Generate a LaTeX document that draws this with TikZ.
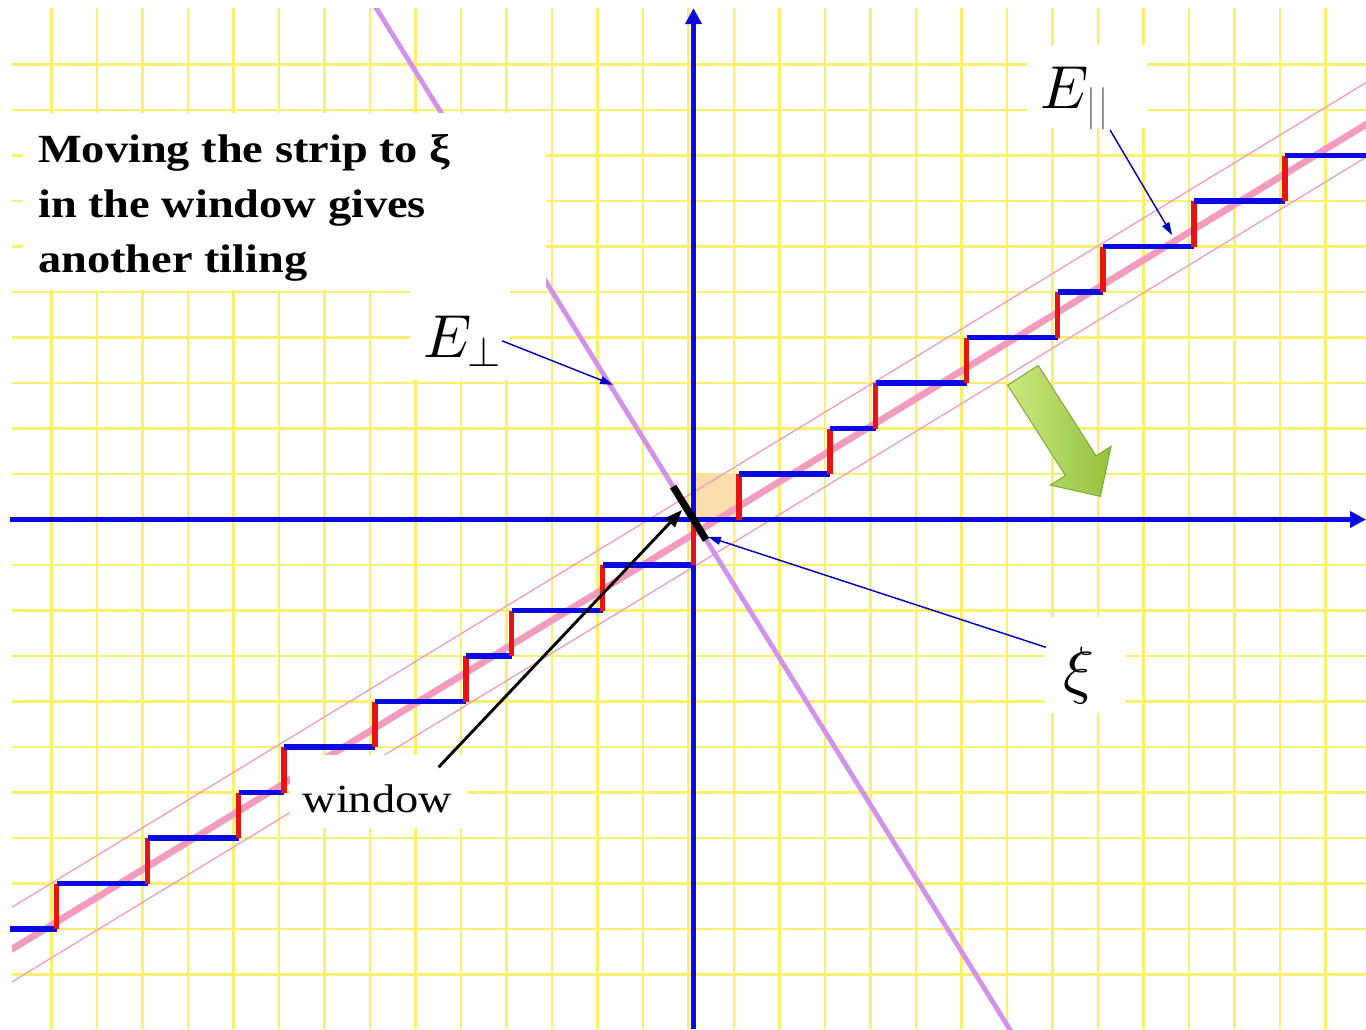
\documentclass[tikz,border=0pt]{standalone}
\usepackage{fontspec}
\newfontfamily\slidefont[FakeStretch=1.16]{Liberation Serif}
\DeclareFontShape{OML}{cmm}{m}{it}{<->cmmi10}{}
\DeclareFontShape{OMS}{cmsy}{m}{n}{<->cmsy10}{}
\DeclareFontShape{OT1}{cmr}{m}{n}{<->cmr10}{}
\usetikzlibrary{arrows.meta}
\definecolor{gridyellow}{RGB}{250,240,110}
\definecolor{strippink}{RGB}{242,155,190}
\definecolor{perpviolet}{RGB}{212,145,235}
\definecolor{stairblue}{RGB}{10,10,225}
\definecolor{stairred}{RGB}{232,20,20}
\definecolor{cellorange}{RGB}{252,222,172}
\definecolor{greenlight}{RGB}{205,232,130}
\definecolor{greendark}{RGB}{145,195,60}

\begin{document}
\begin{tikzpicture}[
  gridline/.style={gridyellow, line width=1.6pt},
  axis/.style={stairblue, line width=3pt, -{Triangle[length=10pt,width=10pt]}},
  riser/.style={stairred, line width=3.5pt},
  tread/.style={stairblue, line width=3.5pt},
  pointer/.style={blue!75!black, line width=0.9pt, -{Triangle[length=8pt,width=5pt]}},
  mathlabel/.style={inner sep=0pt, font=\fontsize{38}{46}\selectfont},
  patch/.style={fill=white}]
\useasboundingbox (-15.242,-11.198) rectangle (14.780,11.418);
\fill[white] (-15.242,-11.198) rectangle (14.780,11.418);

\begin{scope}
\clip (-14.98,-11.198) rectangle (14.780,11.24);
\foreach \k in {-14,...,14}
  \draw[gridline] (\k-0.11,-11.2) -- (\k-0.11,11.24);
\foreach \k in {-10,...,10}
  \draw[gridline] (-14.98,\k) -- (14.78,\k);
\fill[cellorange] (0,0) rectangle (1,1);
% the strip along E_par
\draw[strippink, line width=0.8pt] (-15,{0.6-15*0.609}) -- (15,{0.6+15*0.609});
\draw[strippink, line width=4.2pt] (-15,{-0.32-15*0.609}) -- (15,{-0.32+15*0.609});
\draw[strippink, line width=0.8pt] (-15,{-1.04-15*0.609}) -- (15,{-1.04+15*0.609});
% E_perp
\draw[perpviolet, line width=3pt] ({-11.4/1.612},11.4) -- ({11.4/1.612},-11.4);
\end{scope}

\draw[axis] (-15.02,0) -- (14.78,0);
\draw[axis] (0,-11.2) -- (0,11.24);

% the tiling
\draw[tread] (-15.02,-9) -- (-14,-9);
\foreach \a/\b/\c in {-14/-9/-12, -12/-8/-10, -10/-7/-9, -9/-6/-7, -7/-5/-5,
    -5/-4/-4, -4/-3/-2, -2/-2/0, 0/-1/1, 1/0/3, 3/1/4, 4/2/6, 6/3/8,
    8/4/9, 9/5/11, 11/6/13, 13/7/14.78} {
  \draw[riser] (\a,\b) -- (\a,\b+1);
  \draw[tread] (\a,\b+1) -- (\c,\b+1);
}

% window
\draw[line width=4.5pt] (-0.448,0.724) -- (0.277,-0.448);

\fill[patch] (-14.74,5.04) rectangle (-3.24,8.93);
\fill[patch] (7.33,8.60) rectangle (9.97,10.43);
\fill[patch] (-6.23,3.07) rectangle (-4.03,5.15);
\fill[patch] (7.73,-4.25) rectangle (9.48,-2.14);
\fill[patch] (-8.87,-6.78) rectangle (-4.96,-5.18);

\node[anchor=north west, align=left, inner sep=0pt,
  font=\slidefont\bfseries\fontsize{25}{34.4}\selectfont] (note) at (-14.41,8.46)
  {Moving the strip to ξ\\in the window gives\\another tiling};
\node[mathlabel, anchor=base west] (epar) at (7.62,9.04) {$E_{\textcolor{gray}{||}}$};
\node[mathlabel, anchor=base west] (eperp) at (-5.95,3.57) {$E_\perp$};
\node[mathlabel, anchor=base west, font=\fontsize{40}{48}\selectfont, inner xsep=0.38cm] (xi) at (7.74,-3.79) {$\xi$};
\node[anchor=base west, inner sep=0pt, font=\slidefont\fontsize{25}{30}\selectfont] (window) at (-8.60,-6.43) {window};

\coordinate (parpt) at (10.52,6.25);
\coordinate (perppt) at (-1.77,2.96);
\coordinate (xipt) at (0.32,-0.38);
\coordinate (winpt) at (-0.25,0.21);

\draw[pointer] (epar.south east) -- (parpt);
\draw[pointer] (eperp.east) -- (perppt);
\draw[pointer] (xi.north west) -- (xipt);
\draw[line width=1.8pt, -{Triangle[length=11pt,width=8pt]}] ([shift={(-0.3,0.37)}]window.north east) -- (winpt);

% moving direction
\begin{scope}[shift={(7.24,3.17)}, rotate=-57.4]
\shade[left color=greenlight, right color=greendark, draw=greendark!85!black, line width=0.6pt]
  (0,-0.4) -- (2.36,-0.4) -- (2.36,-0.79) -- (3.16,0) -- (2.36,0.79) -- (2.36,0.4) -- (0,0.4) -- cycle;
\end{scope}
\end{tikzpicture}
\end{document}
